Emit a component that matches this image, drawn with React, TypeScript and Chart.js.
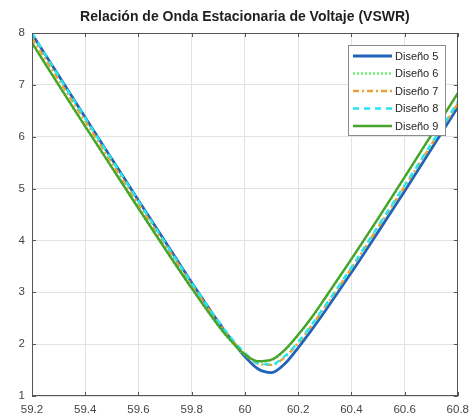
import { useEffect, useRef } from "react";
import { Chart, registerables } from "chart.js";

Chart.register(...registerables);

// Frequency samples (Hz) and VSWR of each design
const freqs = [59.2, 59.3, 59.4, 59.5, 59.6, 59.7, 59.8, 59.9, 59.95, 60.0, 60.05, 60.1, 60.15, 60.2, 60.25, 60.3, 60.4, 60.5, 60.6, 60.7, 60.8];
const diseno5 = [7.98, 7.18, 6.37, 5.57, 4.77, 3.98, 3.19, 2.43, 2.08, 1.76, 1.52, 1.45, 1.62, 1.93, 2.27, 2.63, 3.38, 4.16, 4.95, 5.76, 6.57];
const diseno6 = [7.8, 6.99, 6.19, 5.4, 4.61, 3.83, 3.07, 2.35, 2.04, 1.79, 1.66, 1.69, 1.88, 2.17, 2.5, 2.87, 3.63, 4.41, 5.21, 6.02, 6.83];
const diseno7 = [7.9, 7.1, 6.3, 5.5, 4.71, 3.92, 3.15, 2.42, 2.09, 1.81, 1.62, 1.6, 1.75, 2.02, 2.35, 2.71, 3.46, 4.25, 5.04, 5.84, 6.64];
const diseno8 = [8.0, 7.17, 6.36, 5.56, 4.76, 3.96, 3.18, 2.44, 2.11, 1.83, 1.63, 1.61, 1.77, 2.04, 2.37, 2.73, 3.48, 4.27, 5.06, 5.86, 6.67];
const diseno9 = [7.81, 7.0, 6.2, 5.41, 4.62, 3.84, 3.08, 2.36, 2.05, 1.8, 1.67, 1.7, 1.89, 2.18, 2.51, 2.88, 3.64, 4.42, 5.22, 6.03, 6.84];

const seriesNames = ["Diseño 5", "Diseño 6", "Diseño 7", "Diseño 8", "Diseño 9"];
const seriesValues = [diseno5, diseno6, diseno7, diseno8, diseno9];
const seriesColors = ["#2163b8", "#6cf56c", "#eca232", "#22e6f0", "#48a32c"];
const seriesDashes: number[][] = [[], [2, 2], [6, 3, 2, 3], [6, 5], []];
const seriesWidths = [2.8, 2.4, 2.4, 2.4, 2.4];

const titleText = "Relación de Onda Estacionaria de Voltaje (VSWR)";
const FONT = "'Liberation Sans', Arial, sans-serif";

// Box frame, inward tick marks, title and the boxed legend
const decorations = {
  id: "decorations",
  afterDraw(chart: any) {
    const { ctx, chartArea } = chart;
    const { left, right, top, bottom } = chartArea;
    const xs = chart.scales.x;
    const ys = chart.scales.y;
    ctx.save();

    // frame
    ctx.strokeStyle = "#555555";
    ctx.lineWidth = 1;
    ctx.strokeRect(Math.round(left) + 0.5, Math.round(top) + 0.5, Math.round(right - left) - 1, Math.round(bottom - top) - 1);

    // inward ticks
    const tl = 4;
    ctx.beginPath();
    xs.ticks.forEach((t: any) => {
      const px = Math.round(xs.getPixelForValue(t.value)) + 0.5;
      ctx.moveTo(px, bottom);
      ctx.lineTo(px, bottom - tl);
      ctx.moveTo(px, top);
      ctx.lineTo(px, top + tl);
    });
    ys.ticks.forEach((t: any) => {
      const py = Math.round(ys.getPixelForValue(t.value)) + 0.5;
      ctx.moveTo(left, py);
      ctx.lineTo(left + tl, py);
      ctx.moveTo(right, py);
      ctx.lineTo(right - tl, py);
    });
    ctx.stroke();

    // title
    ctx.fillStyle = "#1f1f1f";
    ctx.font = `bold 14px ${FONT}`;
    ctx.textAlign = "center";
    ctx.textBaseline = "middle";
    ctx.fillText(titleText, (left + right) / 2, 17);

    // legend
    const bx = 348, by = 45, bw = 97, bh = 90;
    ctx.fillStyle = "#ffffff";
    ctx.fillRect(bx, by, bw, bh);
    ctx.strokeStyle = "#8c8c8c";
    ctx.strokeRect(bx + 0.5, by + 0.5, bw, bh);
    ctx.font = `11px ${FONT}`;
    ctx.textAlign = "left";
    seriesNames.forEach((name, i) => {
      const yy = by + 11 + i * 17.5;
      ctx.save();
      ctx.strokeStyle = seriesColors[i];
      ctx.lineWidth = seriesWidths[i];
      ctx.setLineDash(seriesDashes[i]);
      ctx.beginPath();
      ctx.moveTo(bx + 5, yy);
      ctx.lineTo(bx + 44, yy);
      ctx.stroke();
      ctx.restore();
      ctx.fillStyle = "#262626";
      ctx.fillText(name, bx + 47, yy + 0.5);
    });
    ctx.restore();
  },
};

const formatTick = (v: number | string) => String(parseFloat(Number(v).toFixed(2)));

export default function App() {
  const canvasRef = useRef<HTMLCanvasElement | null>(null);

  useEffect(() => {
    document.body.style.margin = "0";
    const canvas = canvasRef.current;
    if (!canvas) return;
    const datasets = seriesNames.map((name, i) => ({
      label: name,
      data: freqs.map((f, j) => ({ x: f, y: seriesValues[i][j] })),
      borderColor: seriesColors[i],
      backgroundColor: seriesColors[i],
      borderWidth: seriesWidths[i],
      borderDash: seriesDashes[i],
      pointRadius: 0,
      cubicInterpolationMode: "monotone" as const,
      fill: false,
      order: seriesNames.length - i,
    }));

    const chart = new Chart(canvas, {
      type: "line",
      data: { datasets },
      options: {
        animation: false,
        responsive: false,
        devicePixelRatio: 1,
        layout: { padding: { top: 33, right: 16, left: 0, bottom: 0 } },
        plugins: {
          legend: { display: false },
          title: { display: false },
          tooltip: { enabled: false },
        },
        scales: {
          x: {
            type: "linear",
            min: 59.2,
            max: 60.8,
            ticks: {
              stepSize: 0.2,
              padding: 7,
              color: "#454545",
              font: { family: FONT, size: 11.5 },
              maxRotation: 0,
              callback: (v: any) => formatTick(v),
            },
            grid: { color: "#e3e3e3", drawTicks: false },
            border: { display: false },
            afterFit: (s: any) => {
              s.height = 22;
            },
          },
          y: {
            min: 1,
            max: 8,
            ticks: {
              stepSize: 1,
              padding: 7,
              color: "#454545",
              font: { family: FONT, size: 11.5 },
            },
            grid: { color: "#e3e3e3", drawTicks: false },
            border: { display: false },
            afterFit: (s: any) => {
              s.width = 32;
            },
          },
        },
      },
      plugins: [decorations],
    });
    return () => chart.destroy();
  }, []);

  return (
    <div style={{ position: "absolute", left: 0, top: 0, width: 476, height: 418, background: "#ffffff" }}>
      <canvas ref={canvasRef} width={476} height={418} />
    </div>
  );
}
